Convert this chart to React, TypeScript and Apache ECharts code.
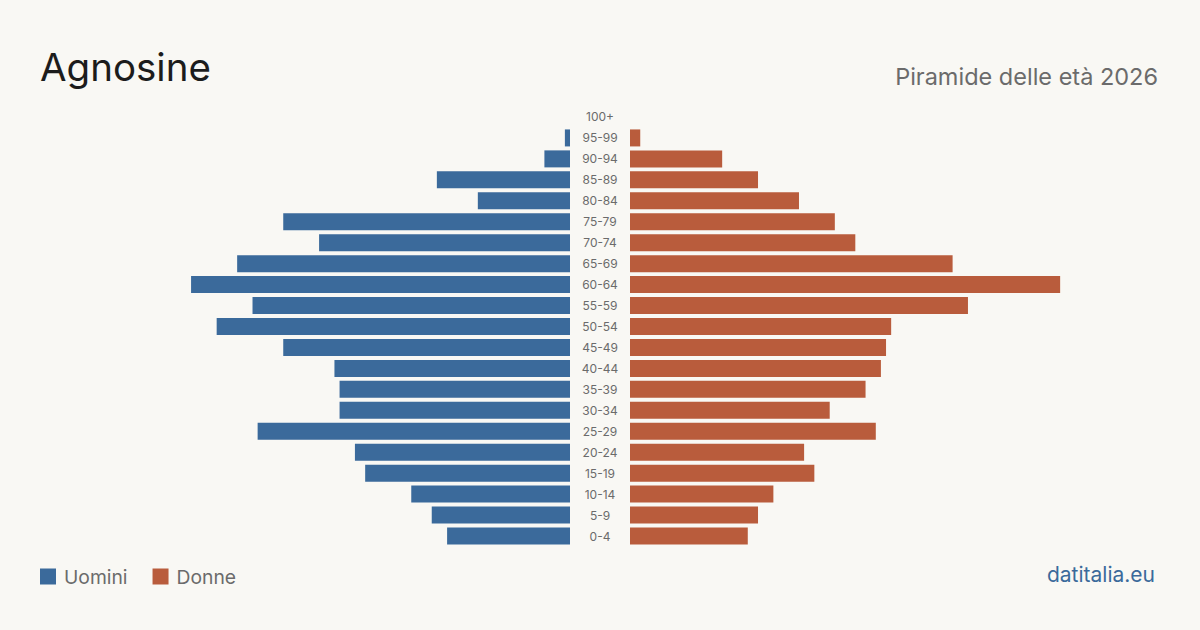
import React, { useEffect, useRef } from "react";
import * as echarts from "echarts";

const ageGroups = ["0-4","5-9","10-14","15-19","20-24","25-29","30-34","35-39","40-44","45-49","50-54","55-59","60-64","65-69","70-74","75-79","80-84","85-89","90-94","95-99","100+"];
const men = [24,27,31,40,42,61,45,45,46,56,69,62,74,65,49,56,18,26,5,1,0];
const women = [23,25,28,36,34,48,39,46,49,50,51,66,84,63,44,40,33,25,18,2,0];

const titleText = "Agnosine";
const subtitleText = "Piramide delle età 2026";
const sourceText = "datitalia.eu";
const menLabel = "Uomini";
const womenLabel = "Donne";

const BLUE = "#3b6a9b";
const ORANGE = "#b95c3c";
const BG = "#f9f8f4";
const FONT = "Inter, 'Noto Sans', sans-serif";

export default function App() {
  const ref = useRef<HTMLDivElement>(null);
  useEffect(() => {
    const chart = echarts.init(ref.current!, null, { renderer: "svg" });
    const axisMax = 103.5;
    chart.setOption({
      animation: false,
      backgroundColor: BG,
      textStyle: { fontFamily: FONT },
      title: [
        { text: titleText, left: 40, top: 47, padding: 0, textStyle: { fontSize: 38.5, fontWeight: 400, color: "#1c1c1c", fontFamily: FONT } },
        { text: subtitleText, right: 42, top: 64, padding: 0, textStyle: { fontSize: 23.5, fontWeight: 400, color: "#6b6b6b", fontFamily: FONT } },
        { text: sourceText, right: 45, top: 564, padding: 0, textStyle: { fontSize: 21, fontWeight: 400, color: "#3b6a9b", fontFamily: FONT } },
      ],
      legend: {
        left: 40, top: 567, padding: 0, itemWidth: 16, itemHeight: 16, itemGap: 25, icon: "rect",
        textStyle: { fontSize: 19.3, color: "#6b6b6b", fontFamily: FONT, padding: [0, 0, 0, 3] },
        data: [menLabel, womenLabel],
      },
      grid: [
        { left: 40, width: 530, top: 106.5, height: 440 },
        { left: 630, width: 530, top: 106.5, height: 440 },
      ],
      xAxis: [
        { type: "value", gridIndex: 0, inverse: true, min: 0, max: axisMax, show: false },
        { type: "value", gridIndex: 1, min: 0, max: axisMax, show: false },
      ],
      yAxis: [
        { type: "category", gridIndex: 0, data: ageGroups, show: false },
        {
          type: "category", gridIndex: 1, data: ageGroups, position: "left",
          axisLine: { show: false }, axisTick: { show: false },
          axisLabel: { align: "center", margin: 30, fontSize: 12, color: "#6b6b6b", fontFamily: FONT },
        },
      ],
      series: [
        { name: menLabel, type: "bar", xAxisIndex: 0, yAxisIndex: 0, data: men, barWidth: 17, itemStyle: { color: BLUE } },
        { name: womenLabel, type: "bar", xAxisIndex: 1, yAxisIndex: 1, data: women, barWidth: 17, itemStyle: { color: ORANGE } },
      ],
    });
    return () => chart.dispose();
  }, []);
  return <div ref={ref} style={{ width: 1200, height: 630, position: "fixed", left: 0, top: 0 }} />;
}
